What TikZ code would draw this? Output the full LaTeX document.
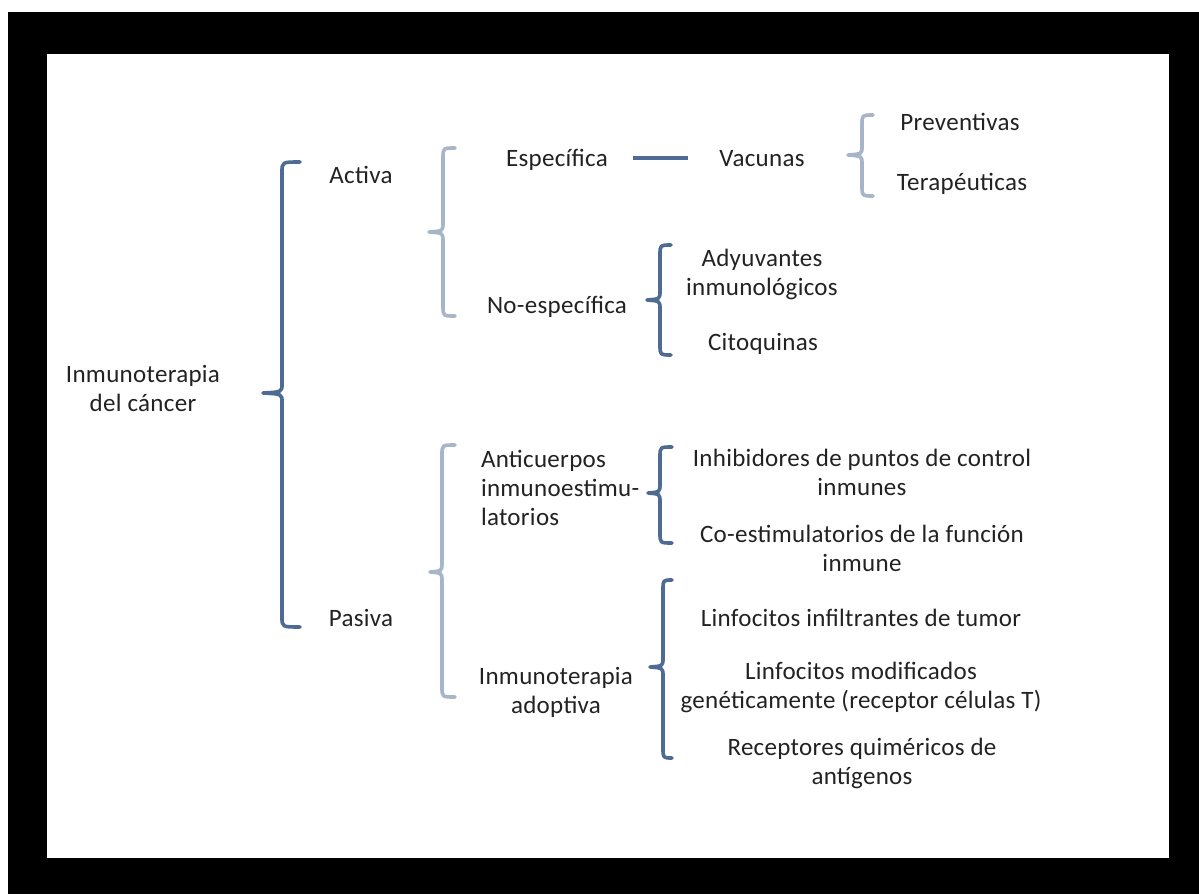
\documentclass[tikz,border=0pt]{standalone}
\usepackage{fontspec}
\setmainfont{Carlito}[LetterSpace=1.2]
\definecolor{darkb}{HTML}{4D6B93}
\definecolor{lightb}{HTML}{A7B5C9}
\definecolor{txtc}{HTML}{222222}
\newcommand{\mybrace}[7]{% color, xtip, xv, xhook, top, tipy, bottom
  \draw[#1,line width=3.6pt,line cap=round,line join=round]
    (#4,#5) .. controls (#3,#5) .. (#3,#5+10) -- (#3,#6-9)
    .. controls (#3,#6-1) .. (#2,#6) .. controls (#3,#6+1) .. (#3,#6+9)
    -- (#3,#7-10) .. controls (#3,#7) .. (#4,#7);}
\begin{document}
\begin{tikzpicture}[x=1pt,y=-1pt,
  lbl/.style={inner sep=0pt,outer sep=0pt,text=txtc,align=center,font=\fontsize{25}{29}\selectfont},
  one/.style={lbl,text height=19pt,text depth=3pt}]
\useasboundingbox (0,0) rectangle (1199,894);
\fill[white] (0,0) rectangle (1199,894);
\fill[black] (8,12) rectangle (1199,894);
\fill[white] (47,54) rectangle (1169,858);

\node[lbl] (root) at (143,388) {Inmunoterapia\\del cáncer};
\node[one] (activa) at (361,175) {Activa};
\node[one] (pasiva) at (361,618) {Pasiva};
\node[one] (especifica) at (557,158) {Específica};
\node[one] (noesp) at (557,305) {No-específica};
\node[one] (vacunas) at (762,158) {Vacunas};
\node[one] (prev) at (960,122) {Preventivas};
\node[one] (terap) at (962,182) {Terapéuticas};
\node[lbl] (adyuv) at (762,274) {Adyuvantes\\inmunológicos};
\node[one] (citoq) at (763,342) {Citoquinas};
\node[lbl,align=left,anchor=west] (anti) at (481,488) {Anticuerpos\\inmunoestimu-\\latorios};
\node[lbl] (inmadop) at (556,692) {Inmunoterapia\\adoptiva};
\node[lbl] (inhib) at (862,472) {Inhibidores de puntos de control\\inmunes};
\node[lbl] (coest) at (862,548) {Co-estimulatorios de la función\\inmune};
\node[one] (linf1) at (861,618) {Linfocitos infiltrantes de tumor};
\node[lbl] (linf2) at (861,687) {Linfocitos modificados\\genéticamente (receptor células T)};
\node[lbl] (recep) at (862,763) {Receptores quiméricos de\\antígenos};

\draw[darkb,line width=3.6pt,shorten <=25pt,shorten >=31pt] (especifica.east) -- (vacunas.west);

\mybrace{darkb}{263}{282}{300}{162}{393}{627}
\mybrace{lightb}{429}{443}{455}{148}{232}{316}
\mybrace{lightb}{430}{442}{455}{445}{572}{697}
\mybrace{lightb}{848}{862}{873}{115}{155}{196}
\mybrace{darkb}{647}{660}{671}{245}{300}{355}
\mybrace{darkb}{648}{660}{672}{447}{493}{543}
\mybrace{darkb}{650}{663}{672}{580}{667}{758}
\end{tikzpicture}
\end{document}
